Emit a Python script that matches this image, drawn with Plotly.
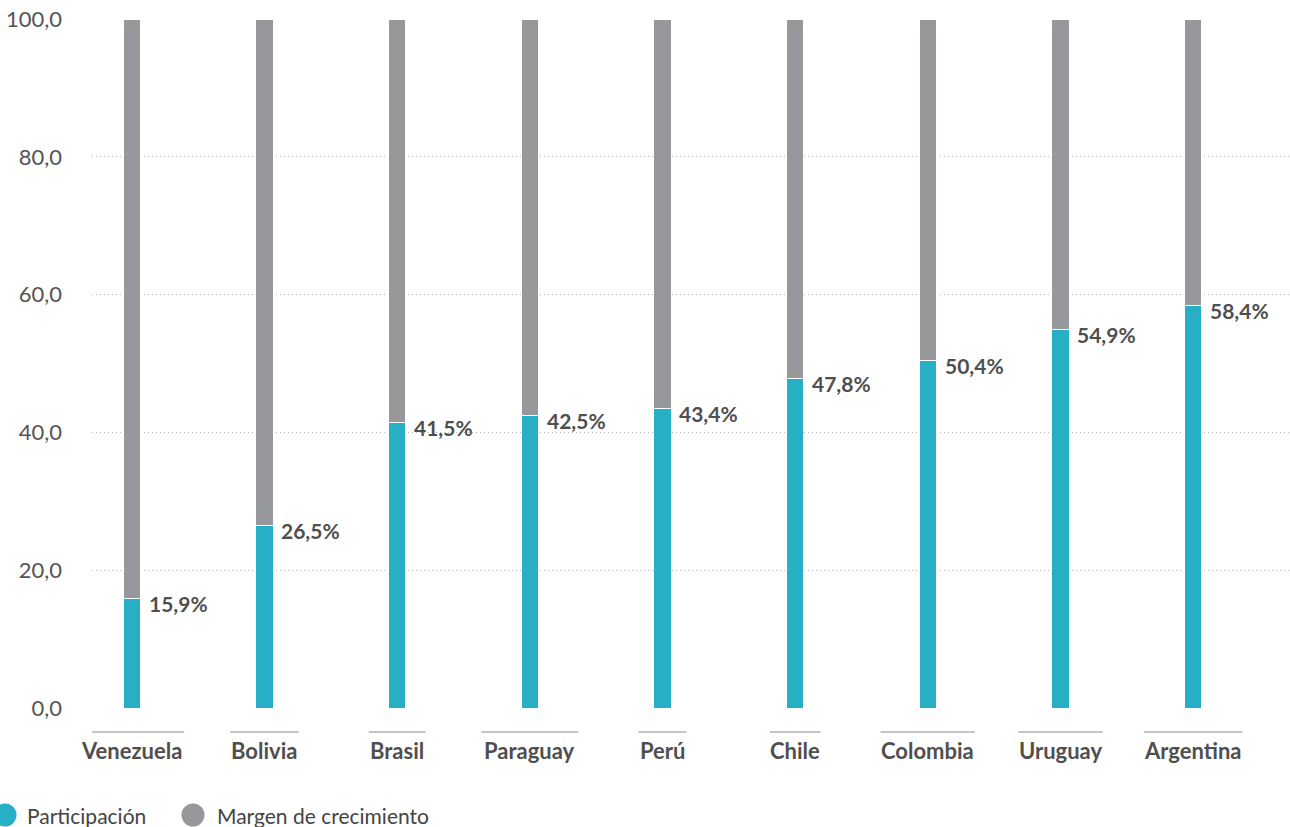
import plotly.graph_objects as go

# Participation share by country (%) and the remaining growth margin
countries = ["Venezuela", "Bolivia", "Brasil", "Paraguay", "Perú",
             "Chile", "Colombia", "Uruguay", "Argentina"]
participacion = [15.9, 26.5, 41.5, 42.5, 43.4, 47.8, 50.4, 54.9, 58.4]
margen = [round(100 - v, 1) for v in participacion]
y_ticks = [0, 20, 40, 60, 80, 100]
series_names = ["Participación", "Margen de crecimiento"]

TEAL = "#27afc6"
GRAY = "#97989c"
TEXT = "#4f4f4f"
FONT = "Lato, 'Noto Sans', sans-serif"

W, H = 1290, 827
M_L, M_R, M_T, M_B = 92, 0, 19, 119
PLOT_W, PLOT_H = W - M_L - M_R, H - M_T - M_B
X_RANGE = [-0.30, 8.73]

# rough advance widths (em) for Lato Bold, used to size the rule above each label
_narrow = {"i": 0.25, "l": 0.25, "j": 0.25, "t": 0.36, "f": 0.34, "r": 0.38,
           "s": 0.43, "z": 0.45, "c": 0.46, "m": 0.84, "w": 0.76}


def label_width(txt, size):
    w = 0.0
    for ch in txt:
        if ch in _narrow:
            w += _narrow[ch]
        elif ch.isupper():
            w += 0.66
        else:
            w += 0.54
    return w * size * 1.03


def px_x(px):
    return (px - M_L) / PLOT_W


def px_y(py):
    return (H - M_B - py) / PLOT_H


fig = go.Figure()
fig.add_trace(go.Bar(
    x=countries, y=participacion, name=series_names[0],
    marker=dict(color=TEAL, line=dict(color="white", width=1)),
    width=0.13, showlegend=False, hoverinfo="y",
))
fig.add_trace(go.Bar(
    x=countries, y=margen, name=series_names[1],
    marker=dict(color=GRAY, line=dict(color="white", width=1)),
    width=0.13, showlegend=False, hoverinfo="y",
))

annotations = []
shapes = []
for i, (c, v) in enumerate(zip(countries, participacion)):
    annotations.append(dict(
        x=i, y=v, xref="x", yref="y", text=f"{v:.1f}%".replace(".", ","),
        xanchor="left", yanchor="middle", xshift=15, yshift=-5,
        showarrow=False, font=dict(family=FONT, size=21, color=TEXT, weight="bold"),
    ))
    annotations.append(dict(
        x=i, y=px_y(750), xref="x", yref="paper", text=c,
        xanchor="center", yanchor="middle", showarrow=False,
        font=dict(family=FONT, size=22, color=TEXT, weight="bold"),
    ))
    half = label_width(c, 22) / 2
    shapes.append(dict(
        type="line", xref="x", yref="paper", xsizemode="pixel", xanchor=i,
        x0=-half, x1=half, y0=px_y(732), y1=px_y(732),
        line=dict(color="#c6c6c6", width=2),
    ))

# legend: circle swatch + label
legend_items = [(series_names[0], TEAL, 5, 25), (series_names[1], GRAY, 193, 215)]
for name, col, cx, tx in legend_items:
    shapes.append(dict(
        type="circle", xref="paper", yref="paper",
        xsizemode="pixel", ysizemode="pixel",
        xanchor=px_x(cx), yanchor=px_y(815),
        x0=-11.5, x1=11.5, y0=-11.5, y1=11.5,
        fillcolor=col, line=dict(width=0),
    ))
    annotations.append(dict(
        x=px_x(tx), y=px_y(815), xref="paper", yref="paper", text=name,
        xanchor="left", yanchor="middle", showarrow=False,
        font=dict(family=FONT, size=21, color="#444444"),
    ))

fig.update_layout(
    width=W, height=H,
    margin=dict(l=M_L, r=M_R, t=M_T, b=M_B, autoexpand=False),
    barmode="stack",
    plot_bgcolor="white", paper_bgcolor="white",
    font=dict(family=FONT, size=20, color=TEXT),
    xaxis=dict(range=X_RANGE, showticklabels=False, showgrid=False,
               zeroline=False, showline=False, ticks=""),
    yaxis=dict(range=[0, 100], tickvals=y_ticks,
               ticktext=[f"{t:.1f}".replace(".", ",") for t in y_ticks],
               showgrid=True, gridcolor="#b8b8b8", gridwidth=1, griddash="1px,3px",
               zeroline=False, showline=False, ticks="",
               ticklabelstandoff=29, tickfont=dict(size=22, color="#555555")),
    annotations=annotations,
    shapes=shapes,
    showlegend=False,
)

fig.write_html("out.html")
